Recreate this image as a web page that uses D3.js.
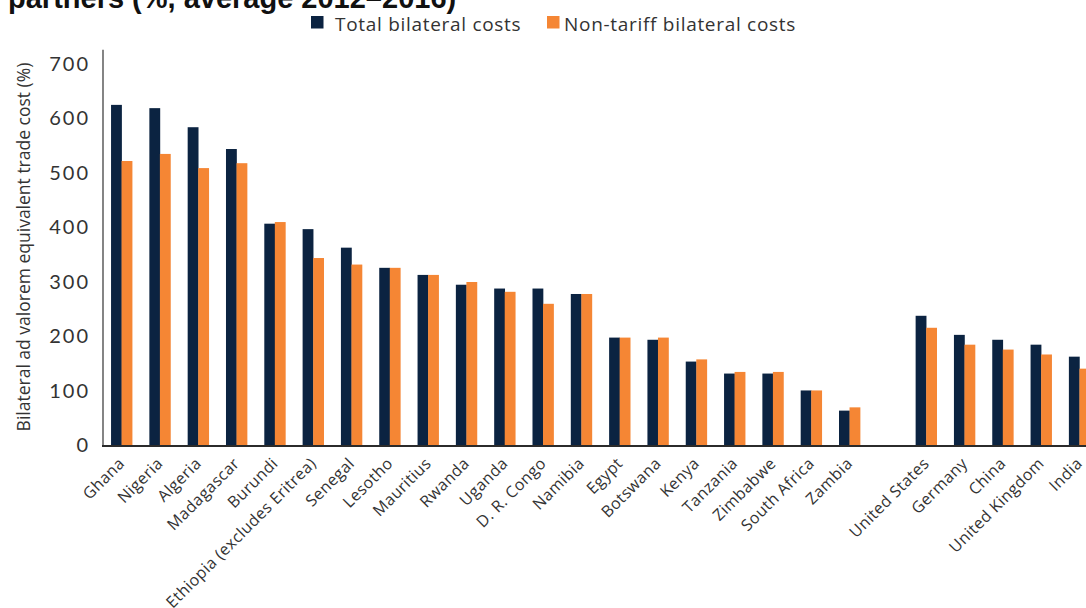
<!DOCTYPE html>
<html><head><meta charset="utf-8">
<script src="https://cdn.jsdelivr.net/npm/d3@7"></script>
<style>
html,body{margin:0;padding:0;background:#fff;overflow:hidden}
text{font-family:"Open Sans",sans-serif}
</style></head>
<body><svg id="c" width="1086" height="608"></svg>
<script>
const categories = ["Ghana","Nigeria","Algeria","Madagascar","Burundi","Ethiopia (excludes Eritrea)","Senegal","Lesotho","Mauritius","Rwanda","Uganda","D. R. Congo","Namibia","Egypt","Botswana","Kenya","Tanzania","Zimbabwe","South Africa","Zambia","","United States","Germany","China","United Kingdom","India"];
const totalCosts = [625,619,584,544,407,397,363,326,313,295,288,288,278,198,194,154,132,132,101,64,null,238,203,194,185,163];
const nonTariffCosts = [522,535,509,518,410,344,332,326,313,300,282,260,278,198,198,158,135,135,101,70,null,216,185,176,167,141];
const yTicks = [0,100,200,300,400,500,600,700];
const seriesNames = ["Total bilateral costs","Non-tariff bilateral costs"];
const colors = ["#0b2341","#f58634"];
const titleText = "partners (%, average 2012\u20132016)";
const yTitle = "Bilateral ad valorem equivalent trade cost (%)";

const svg = d3.select("#c");
const y = d3.scaleLinear().domain([0,700]).range([445.5,64]);
const x = d3.scaleBand().domain(categories).range([103,1098]).paddingInner(0.45).paddingOuter(0.21);
const xs = d3.scaleBand().domain([0,1]).range([0,x.bandwidth()]);

// title (cut off at top, as in the reference)
svg.append("text").attr("x",8).attr("y",8)
  .style("font-family","'Liberation Sans',Arial,sans-serif")
  .attr("font-size",29).attr("font-weight","bold").attr("fill","#111").text(titleText);

// legend
const leg = svg.append("g");
const legX = [311,547];
const legT = [335,564];
seriesNames.forEach((n,i)=>{
  leg.append("rect").attr("x",legX[i]).attr("y",16).attr("width",12.5).attr("height",12.5).attr("fill",colors[i]);
  leg.append("text").attr("x",legT[i]).attr("y",30.5).attr("font-size",19).attr("letter-spacing",0.7).attr("fill","#333").text(n);
});

// bars
const data = categories.map((c,i)=>({c, v:[totalCosts[i],nonTariffCosts[i]]}));
const g = svg.append("g");
data.forEach(d=>{
  d.v.forEach((v,j)=>{
    if(v==null) return;
    g.append("rect").attr("x",x(d.c)+xs(j)).attr("width",xs.bandwidth()+0.3)
      .attr("y",y(v)).attr("height",y(0)-y(v)).attr("fill",colors[j]);
  });
});

// y axis
const yAxis = d3.axisLeft(y).tickValues(yTicks).tickSize(0).tickPadding(13);
const ya = svg.append("g").attr("transform","translate(103,0)").call(yAxis);
ya.select(".domain").remove();
ya.selectAll("text").attr("font-size",20).attr("letter-spacing",2).attr("fill","#333").style("font-family","Lato, 'Open Sans', sans-serif");
svg.append("line").attr("x1",103).attr("x2",103).attr("y1",y(726)).attr("y2",y(0)).attr("stroke","#333").attr("stroke-width",1.2);

// x axis
const xAxis = d3.axisBottom(x).tickSize(0).tickFormat(d=>d);
const xa = svg.append("g").attr("transform",`translate(0,${y(0)})`).call(xAxis);
xa.select(".domain").remove();
svg.append("line").attr("x1",102).attr("x2",1086).attr("y1",y(0)+0.5).attr("y2",y(0)+0.5).attr("stroke","#2b2b2b").attr("stroke-width",2);
xa.selectAll(".tick text").attr("font-size",16).attr("letter-spacing",0.4).attr("fill","#333").attr("text-anchor","end")
  .attr("dy",0).attr("y",0)
  .attr("transform","translate(4,19) rotate(-45)");

// y title
svg.append("text").attr("transform","translate(30,247) rotate(-90)").attr("text-anchor","middle")
  .attr("font-size",17.5).attr("fill","#333").text(yTitle);
</script></body></html>
